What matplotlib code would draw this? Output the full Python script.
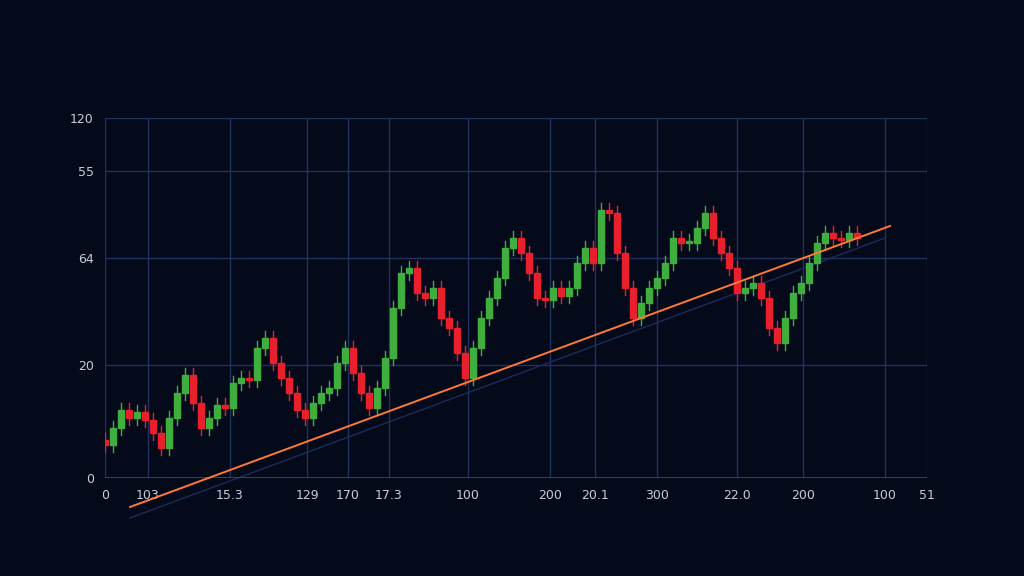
import matplotlib
matplotlib.use("Agg")
import matplotlib.pyplot as plt
from matplotlib.patches import Rectangle

closes = [33,50,68,60,66,58,45,30,60,85,103,75,50,60,73,70,95,100,98,130,140,115,100,85,68,60,75,85,90,115,
          130,105,85,70,90,120,170,205,210,185,180,190,160,150,125,100,130,160,180,200,230,240,225,205,180,178,
          190,182,190,215,230,215,268,265,225,190,160,175,190,200,215,240,235,235,250,265,240,225,210,185,190,
          195,180,150,135,160,185,195,215,235,245,240,238,245,240]
first_open = 38
x_tick_pos = [105,148,230,307,348,389,468,550,595,657,737,803,885,927]
x_tick_labels = ["0","103","15.3","129","170","17.3","100","200","20.1","300","22.0","200","100","51"]
y_tick_pos = [0,113,220,307,360]
y_tick_labels = ["0","20","64","55","120"]
trend_x = [130,890]
trend_y = [-29,252]
trend2_x = [130,885]
trend2_y = [-40,240]

bg = "#050a1a"
fig = plt.figure(figsize=(10.24,5.76), dpi=100, facecolor=bg)
ax = fig.add_axes([105/1024, 98/576, 822/1024, 360/576], facecolor=bg)
ax.set_xlim(105,927); ax.set_ylim(0,360)
opens = [first_open] + closes[:-1]
for i,(o,c) in enumerate(zip(opens,closes)):
    x = 105 + 8*i
    col = "#3fae3f" if c >= o else "#e8202e"
    lo, hi = min(o,c), max(o,c)
    if hi-lo < 2: hi = lo+2
    ax.plot([x,x],[lo-7,hi+7], color=col, lw=1, zorder=3)
    ax.add_patch(Rectangle((x-2.6,lo),5.2,hi-lo,color=col,zorder=4))
ax.plot(trend2_x,trend2_y,color="#1c2c5a",lw=1,clip_on=False,zorder=2)
ax.plot(trend_x,trend_y,color="#ff7a36",lw=1.4,clip_on=False,zorder=5)
ax.set_xticks(x_tick_pos); ax.set_xticklabels(x_tick_labels)
ax.set_yticks(y_tick_pos); ax.set_yticklabels(y_tick_labels)
ax.grid(True,color="#22325e",lw=1)
for s in ax.spines.values(): s.set_visible(False)
ax.axhline(0,color="#3a4a7a",lw=1.2)
ax.tick_params(colors="#c8ccd8",labelsize=9,length=0,pad=8)
fig.savefig("out.png",facecolor=bg)
